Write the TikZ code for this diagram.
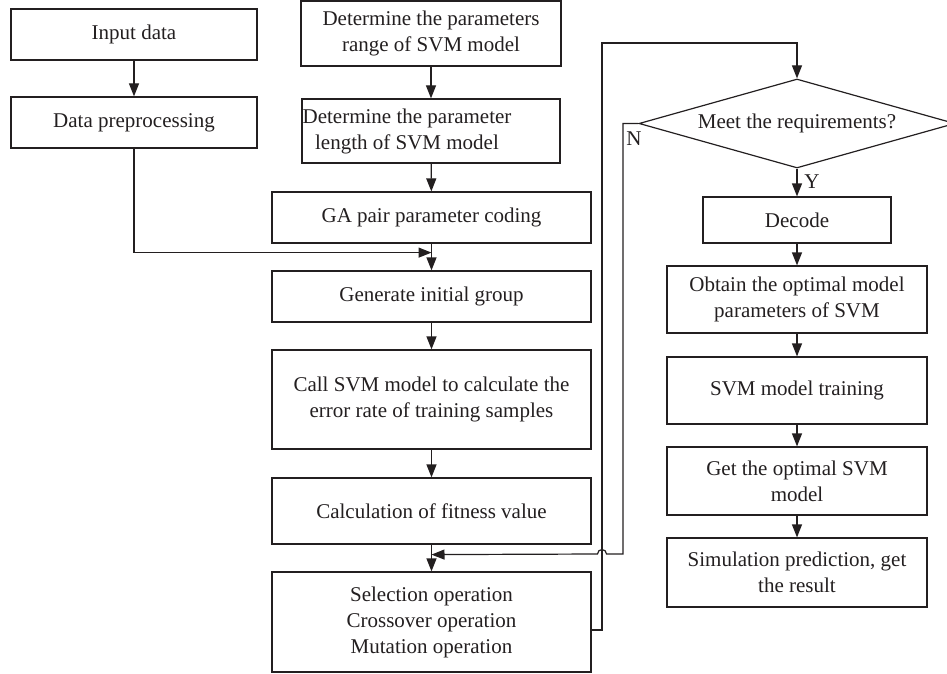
\documentclass[tikz,border=0pt]{standalone}
\usepackage{fontspec}
\setmainfont{Liberation Serif}
\usetikzlibrary{arrows.meta,shapes.geometric}
\definecolor{ink}{HTML}{231F20}
\tikzset{
  box/.style={draw=ink, line width=1.2pt, rectangle, inner sep=0pt, align=center, text=ink},
  arr/.style={draw=ink, line width=1.2pt, -{Triangle[length=13pt,width=10pt]}},
  lbl/.style={text=ink, inner sep=0pt}
}
\begin{document}
\begin{tikzpicture}[x=1pt,y=-1pt,font=\fontsize{21}{26}\selectfont]
\useasboundingbox (0,0) rectangle (947,674);
% left column
\node[box, minimum width=246, minimum height=51] (in) at (134,34.5) {Input data};
\node[box, minimum width=246, minimum height=51] (pre) at (134,122.5) {Data preprocessing};
% middle column
\node[box, minimum width=260, minimum height=65] (range) at (431,33.5) {Determine the parameters\\range of SVM model};
\node[box, minimum width=258, minimum height=64] (len) at (431,131) {};
\node[lbl, align=center] (lentxt) at (407,131) {Determine the parameter\\length of SVM model};
\node[box, minimum width=319, minimum height=51] (ga) at (431.5,217.5) {GA pair parameter coding};
\node[box, minimum width=319, minimum height=51] (gen) at (431.5,296.5) {Generate initial group};
\node[box, minimum width=319, minimum height=99] (call) at (431.5,399.5) {Call SVM model to calculate the\\error rate of training samples};
\node[box, minimum width=319, minimum height=66] (fit) at (431.5,511) {Calculation of fitness value};
\node[box, minimum width=319, minimum height=100] (sel) at (431.5,622) {Selection operation\\Crossover operation\\Mutation operation};
% right column
\node[draw=ink, line width=1.2pt, diamond, shape aspect=3.55, inner sep=0pt, minimum width=316, minimum height=89, text=ink] (dia) at (797,123.5) {Meet the requirements?};
\node[box, minimum width=188, minimum height=46] (dec) at (797,220) {Decode};
\node[box, minimum width=260, minimum height=67] (obt) at (797,299.5) {Obtain the optimal model\\parameters of SVM};
\node[box, minimum width=260, minimum height=67] (trn) at (797,390.5) {SVM model training};
\node[box, minimum width=260, minimum height=68] (opt) at (797,481) {Get the optimal SVM\\model};
\node[box, minimum width=260, minimum height=69] (sim) at (797,572.5) {Simulation prediction, get\\the result};
% labels
\node[lbl] (nlab) at (634,139) {N};
\node[lbl] (ylab) at (812,182) {Y};
% junction coordinates
\coordinate (k) at ([yshift=-9pt]ga.south);
\coordinate (j) at ([yshift=-10pt]fit.south);
% connectors
\draw[arr] (in) -- (pre);
\draw[arr] (range) -- (len);
\draw[arr] (len) -- (ga);
\draw[arr] (ga) -- (gen);
\draw[arr] (pre.south) |- (k);
\draw[arr] (gen) -- (call);
\draw[arr] (call) -- (fit);
\draw[arr] (fit) -- (sel);
\draw[arr] ([yshift=-8pt]sel.east) -- (602,630) -- (602,43) -| (dia.north);
\draw[arr] (dia.west) -- (623,123.5) -- (623,554) -- (606.5,554) arc[start angle=0,end angle=180,radius=4.5pt] -- (j);
\draw[arr] (dia.south) -- (dec);
\draw[arr] (dec) -- (obt);
\draw[arr] (obt) -- (trn);
\draw[arr] (trn) -- (opt);
\draw[arr] (opt) -- (sim);
\end{tikzpicture}
\end{document}
